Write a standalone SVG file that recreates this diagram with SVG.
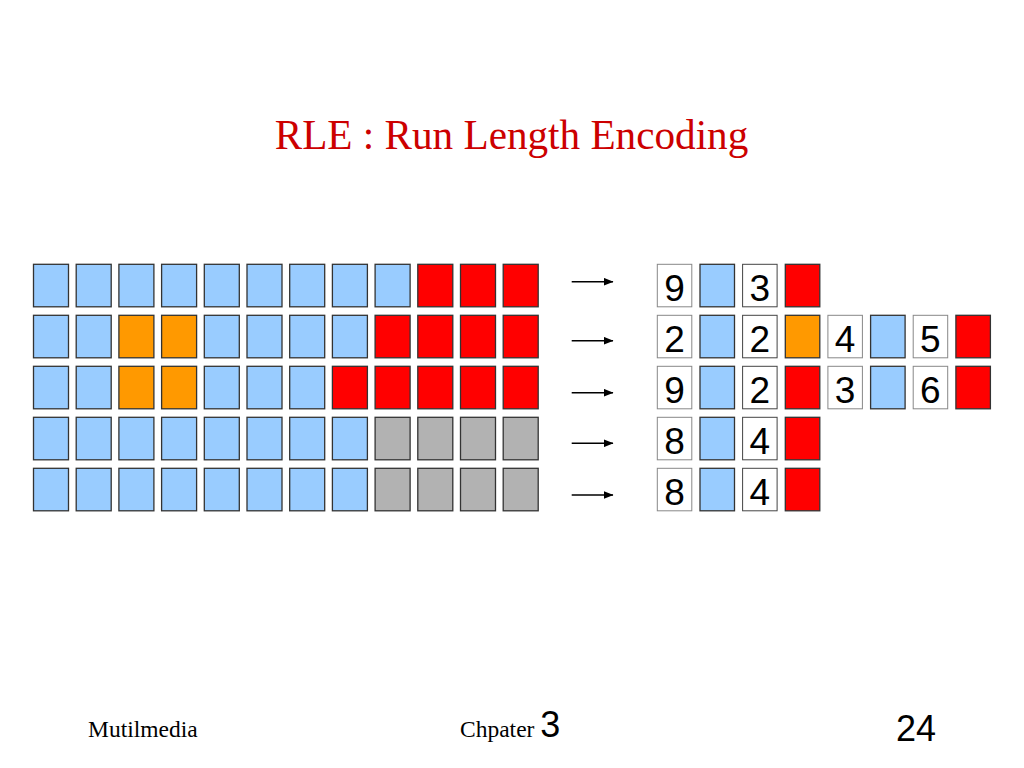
<svg xmlns="http://www.w3.org/2000/svg" width="1024" height="768" viewBox="0 0 1024 768">
<defs>
<style>
.b{fill:#99CCFF;stroke:#333;stroke-width:1.3}
.o{fill:#FF9900;stroke:#333;stroke-width:1.3}
.r{fill:#FF0000;stroke:#333;stroke-width:1.3}
.g{fill:#B2B2B2;stroke:#333;stroke-width:1.3}
.n{fill:#fff;stroke:#888;stroke-width:1}
.n2{fill:#fff;stroke:#444;stroke-width:1}
.d{font-family:"Liberation Sans",Arial,sans-serif;font-size:37px;fill:#000;text-anchor:middle}
.ar{stroke:#000;stroke-width:1.4;fill:none;marker-end:url(#ah)}
</style>
<marker id="ah" markerWidth="10" markerHeight="8" refX="9.5" refY="4" orient="auto" markerUnits="userSpaceOnUse">
<path d="M0,0 L10,4 L0,8 Z" fill="#000"/>
</marker>
</defs>
<rect width="1024" height="768" fill="#fff"/>
<text x="511.5" y="149" font-family="Liberation Serif,'Times New Roman',serif" font-size="41.2" fill="#CC0000" text-anchor="middle">RLE : Run Length Encoding</text>

<g id="grid">
<g id="row1">
<rect class="b" x="33.5" y="264.3" width="35" height="42.5"/>
<rect class="b" x="76.2" y="264.3" width="35" height="42.5"/>
<rect class="b" x="118.9" y="264.3" width="35" height="42.5"/>
<rect class="b" x="161.6" y="264.3" width="35" height="42.5"/>
<rect class="b" x="204.3" y="264.3" width="35" height="42.5"/>
<rect class="b" x="247" y="264.3" width="35" height="42.5"/>
<rect class="b" x="289.7" y="264.3" width="35" height="42.5"/>
<rect class="b" x="332.4" y="264.3" width="35" height="42.5"/>
<rect class="b" x="375.1" y="264.3" width="35" height="42.5"/>
<rect class="r" x="417.8" y="264.3" width="35" height="42.5"/>
<rect class="r" x="460.5" y="264.3" width="35" height="42.5"/>
<rect class="r" x="503.2" y="264.3" width="35" height="42.5"/>
</g>
<g id="row2">
<rect class="b" x="33.5" y="315.3" width="35" height="42.5"/>
<rect class="b" x="76.2" y="315.3" width="35" height="42.5"/>
<rect class="o" x="118.9" y="315.3" width="35" height="42.5"/>
<rect class="o" x="161.6" y="315.3" width="35" height="42.5"/>
<rect class="b" x="204.3" y="315.3" width="35" height="42.5"/>
<rect class="b" x="247" y="315.3" width="35" height="42.5"/>
<rect class="b" x="289.7" y="315.3" width="35" height="42.5"/>
<rect class="b" x="332.4" y="315.3" width="35" height="42.5"/>
<rect class="r" x="375.1" y="315.3" width="35" height="42.5"/>
<rect class="r" x="417.8" y="315.3" width="35" height="42.5"/>
<rect class="r" x="460.5" y="315.3" width="35" height="42.5"/>
<rect class="r" x="503.2" y="315.3" width="35" height="42.5"/>
</g>
<g id="row3">
<rect class="b" x="33.5" y="366.3" width="35" height="42.5"/>
<rect class="b" x="76.2" y="366.3" width="35" height="42.5"/>
<rect class="o" x="118.9" y="366.3" width="35" height="42.5"/>
<rect class="o" x="161.6" y="366.3" width="35" height="42.5"/>
<rect class="b" x="204.3" y="366.3" width="35" height="42.5"/>
<rect class="b" x="247" y="366.3" width="35" height="42.5"/>
<rect class="b" x="289.7" y="366.3" width="35" height="42.5"/>
<rect class="r" x="332.4" y="366.3" width="35" height="42.5"/>
<rect class="r" x="375.1" y="366.3" width="35" height="42.5"/>
<rect class="r" x="417.8" y="366.3" width="35" height="42.5"/>
<rect class="r" x="460.5" y="366.3" width="35" height="42.5"/>
<rect class="r" x="503.2" y="366.3" width="35" height="42.5"/>
</g>
<g id="row4">
<rect class="b" x="33.5" y="417.3" width="35" height="42.5"/>
<rect class="b" x="76.2" y="417.3" width="35" height="42.5"/>
<rect class="b" x="118.9" y="417.3" width="35" height="42.5"/>
<rect class="b" x="161.6" y="417.3" width="35" height="42.5"/>
<rect class="b" x="204.3" y="417.3" width="35" height="42.5"/>
<rect class="b" x="247" y="417.3" width="35" height="42.5"/>
<rect class="b" x="289.7" y="417.3" width="35" height="42.5"/>
<rect class="b" x="332.4" y="417.3" width="35" height="42.5"/>
<rect class="g" x="375.1" y="417.3" width="35" height="42.5"/>
<rect class="g" x="417.8" y="417.3" width="35" height="42.5"/>
<rect class="g" x="460.5" y="417.3" width="35" height="42.5"/>
<rect class="g" x="503.2" y="417.3" width="35" height="42.5"/>
</g>
<g id="row5">
<rect class="b" x="33.5" y="468.3" width="35" height="42.5"/>
<rect class="b" x="76.2" y="468.3" width="35" height="42.5"/>
<rect class="b" x="118.9" y="468.3" width="35" height="42.5"/>
<rect class="b" x="161.6" y="468.3" width="35" height="42.5"/>
<rect class="b" x="204.3" y="468.3" width="35" height="42.5"/>
<rect class="b" x="247" y="468.3" width="35" height="42.5"/>
<rect class="b" x="289.7" y="468.3" width="35" height="42.5"/>
<rect class="b" x="332.4" y="468.3" width="35" height="42.5"/>
<rect class="g" x="375.1" y="468.3" width="35" height="42.5"/>
<rect class="g" x="417.8" y="468.3" width="35" height="42.5"/>
<rect class="g" x="460.5" y="468.3" width="35" height="42.5"/>
<rect class="g" x="503.2" y="468.3" width="35" height="42.5"/>
</g>
</g>

<g id="connectors">
<line class="ar" x1="571.7" y1="281.7" x2="613" y2="281.7"/>
<line class="ar" x1="571.7" y1="340.7" x2="613" y2="340.7"/>
<line class="ar" x1="571.7" y1="392.7" x2="613" y2="392.7"/>
<line class="ar" x1="571.7" y1="443.3" x2="613" y2="443.3"/>
<line class="ar" x1="571.7" y1="495" x2="613" y2="495"/>
</g>

<g id="enc1">
<rect class="n" x="657.3" y="264.3" width="34.5" height="42.5"/><text class="d" x="674.5" y="300.8">9</text>
<rect class="b" x="700" y="264.3" width="34.5" height="42.5"/>
<rect class="n2" x="742.6" y="264.3" width="34.5" height="42.5"/><text class="d" x="759.8" y="300.8">3</text>
<rect class="r" x="785.3" y="264.3" width="34.5" height="42.5"/>
</g>
<g id="enc2">
<rect class="n" x="657.3" y="315.3" width="34.5" height="42.5"/><text class="d" x="674.5" y="351.8">2</text>
<rect class="b" x="700" y="315.3" width="34.5" height="42.5"/>
<rect class="n2" x="742.6" y="315.3" width="34.5" height="42.5"/><text class="d" x="759.8" y="351.8">2</text>
<rect class="o" x="785.3" y="315.3" width="34.5" height="42.5"/>
<rect class="n" x="827.9" y="315.3" width="34.5" height="42.5"/><text class="d" x="845.1" y="351.8">4</text>
<rect class="b" x="870.6" y="315.3" width="34.5" height="42.5"/>
<rect class="n" x="913.2" y="315.3" width="34.5" height="42.5"/><text class="d" x="930.4" y="351.8">5</text>
<rect class="r" x="955.9" y="315.3" width="34.5" height="42.5"/>
</g>
<g id="enc3">
<rect class="n" x="657.3" y="366.3" width="34.5" height="42.5"/><text class="d" x="674.5" y="402.8">9</text>
<rect class="b" x="700" y="366.3" width="34.5" height="42.5"/>
<rect class="n2" x="742.6" y="366.3" width="34.5" height="42.5"/><text class="d" x="759.8" y="402.8">2</text>
<rect class="r" x="785.3" y="366.3" width="34.5" height="42.5"/>
<rect class="n" x="827.9" y="366.3" width="34.5" height="42.5"/><text class="d" x="845.1" y="402.8">3</text>
<rect class="b" x="870.6" y="366.3" width="34.5" height="42.5"/>
<rect class="n" x="913.2" y="366.3" width="34.5" height="42.5"/><text class="d" x="930.4" y="402.8">6</text>
<rect class="r" x="955.9" y="366.3" width="34.5" height="42.5"/>
</g>
<g id="enc4">
<rect class="n" x="657.3" y="417.3" width="34.5" height="42.5"/><text class="d" x="674.5" y="453.8">8</text>
<rect class="b" x="700" y="417.3" width="34.5" height="42.5"/>
<rect class="n2" x="742.6" y="417.3" width="34.5" height="42.5"/><text class="d" x="759.8" y="453.8">4</text>
<rect class="r" x="785.3" y="417.3" width="34.5" height="42.5"/>
</g>
<g id="enc5">
<rect class="n" x="657.3" y="468.3" width="34.5" height="42.5"/><text class="d" x="674.5" y="504.8">8</text>
<rect class="b" x="700" y="468.3" width="34.5" height="42.5"/>
<rect class="n2" x="742.6" y="468.3" width="34.5" height="42.5"/><text class="d" x="759.8" y="504.8">4</text>
<rect class="r" x="785.3" y="468.3" width="34.5" height="42.5"/>
</g>

<g id="footer">
<text x="88" y="736.5" font-family="Liberation Serif,'Times New Roman',serif" font-size="23.5" fill="#000">Mutilmedia</text>
<text x="460" y="736.5" font-family="Liberation Serif,'Times New Roman',serif" font-size="23.5" fill="#000">Chpater <tspan font-family="Liberation Sans,Arial,sans-serif" font-size="36">3</tspan></text>
<text x="896" y="741" font-family="Liberation Sans,Arial,sans-serif" font-size="36" fill="#000">24</text>
</g>
</svg>
